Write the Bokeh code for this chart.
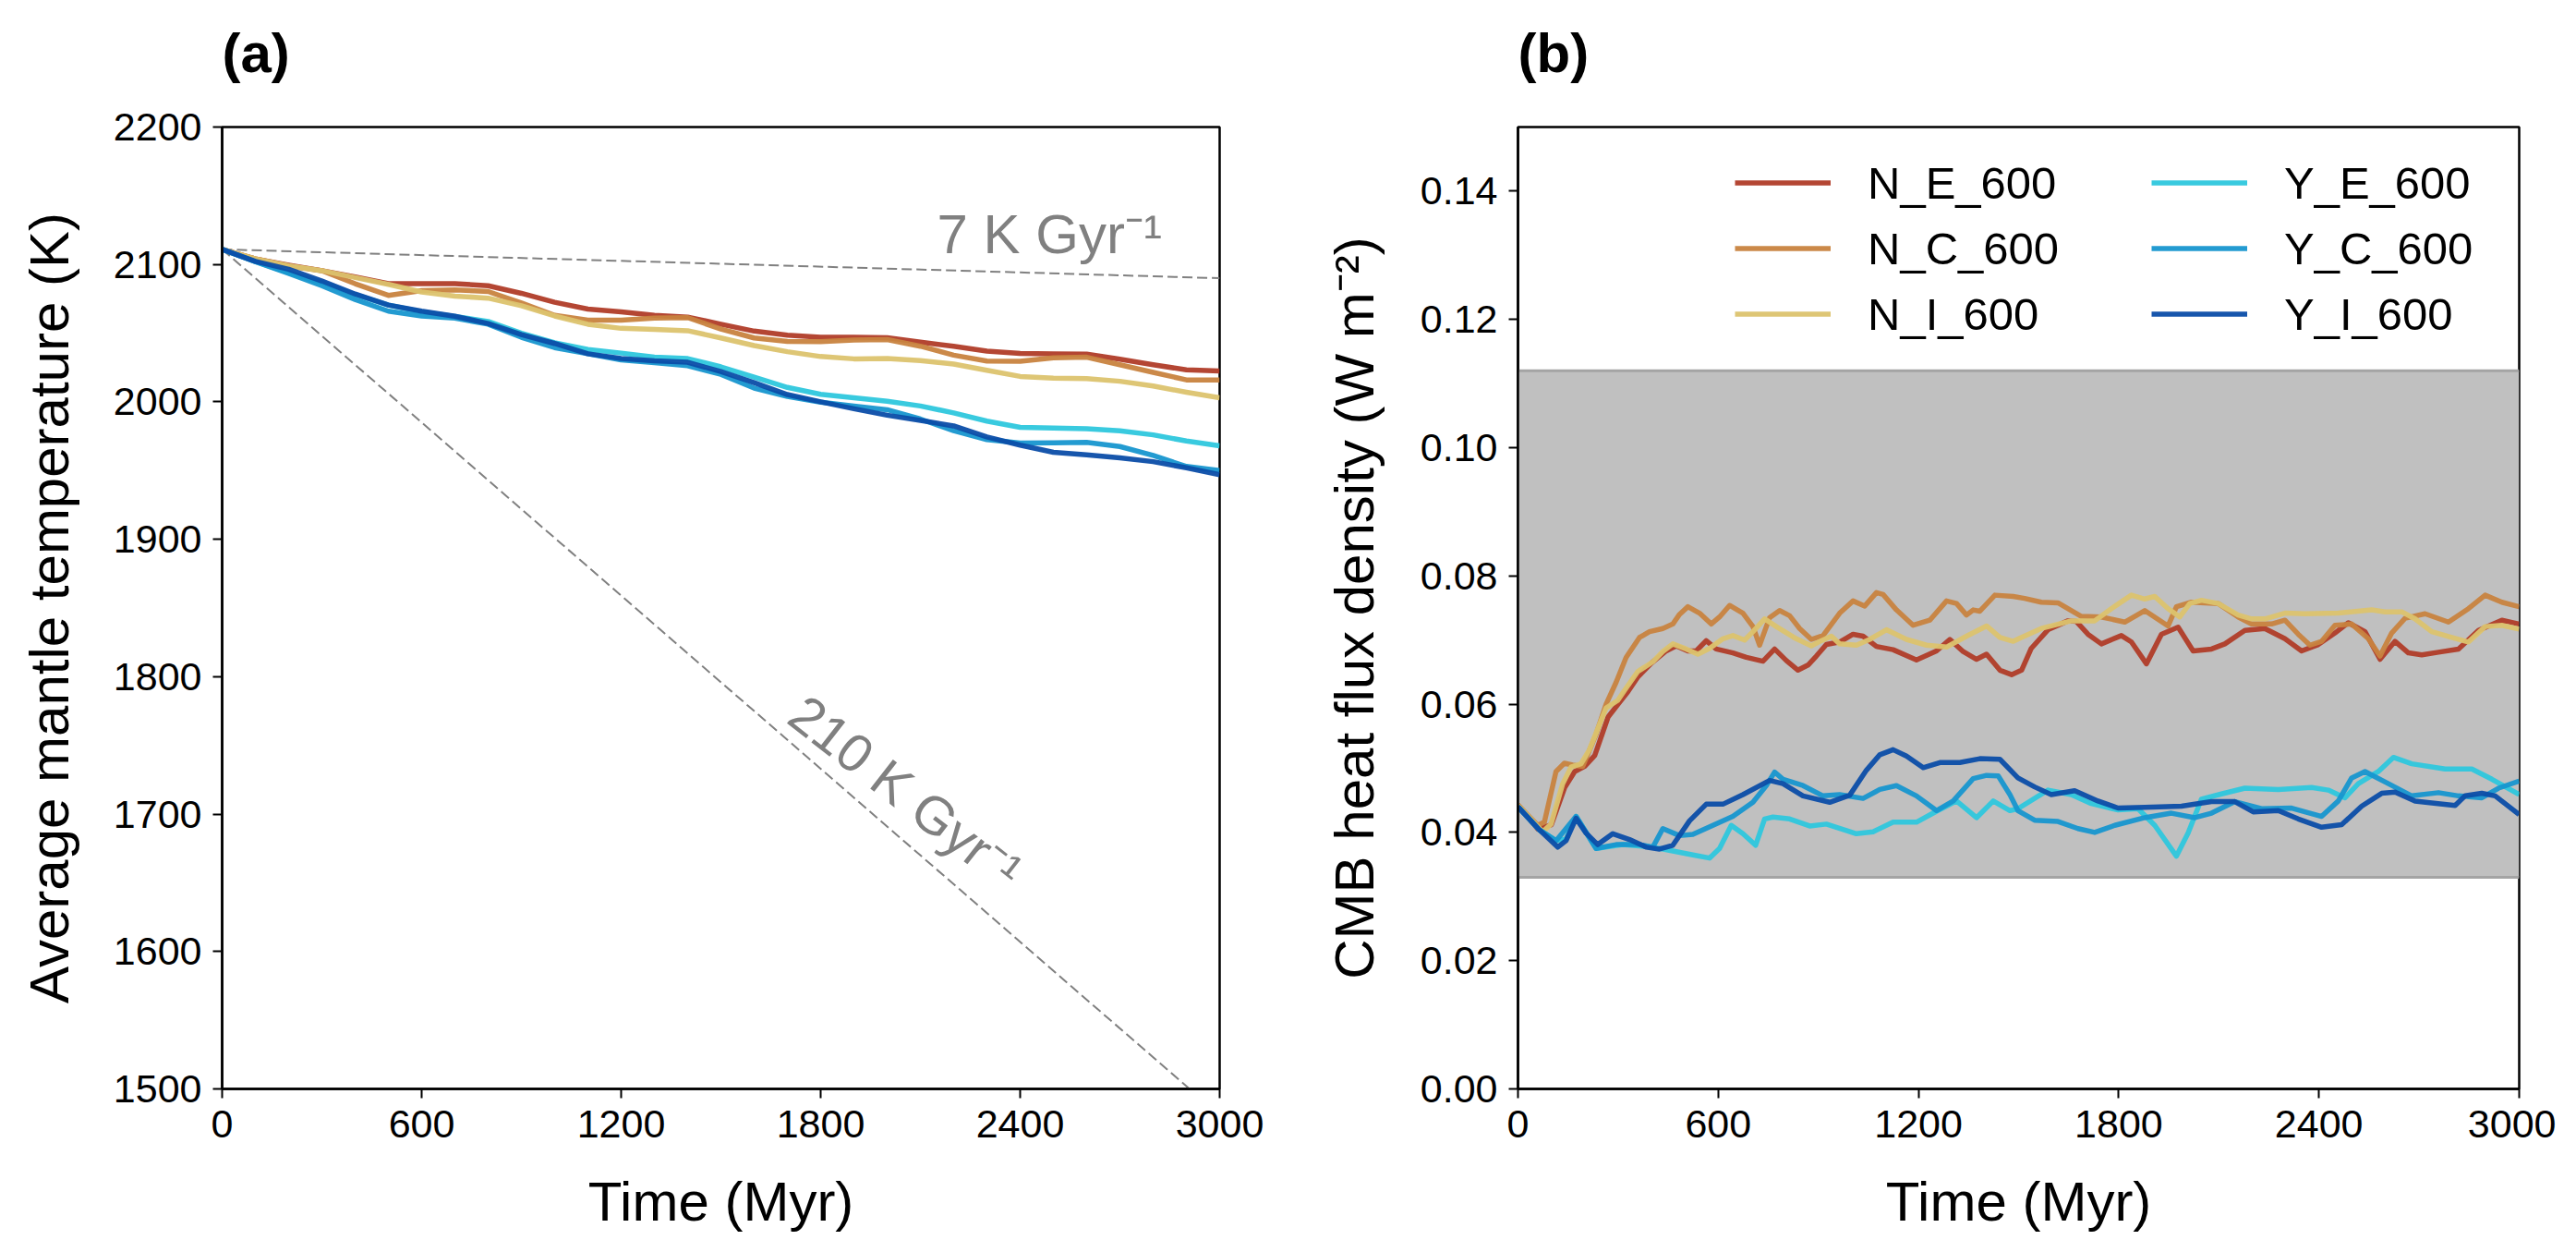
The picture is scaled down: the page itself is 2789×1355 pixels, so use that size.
from bokeh.plotting import figure
from bokeh.layouts import row
from bokeh.models import (Legend, LegendItem, BoxAnnotation, Span, FixedTicker,
                          NumeralTickFormatter, Range1d, Label, Title)
from bokeh.embed import file_html
from bokeh.resources import INLINE

FONT = "Liberation Sans"

# ---------------- data ----------------
names = ["N_E_600", "N_C_600", "N_I_600", "Y_E_600", "Y_C_600", "Y_I_600"]
colors = ["#b03c28", "#c8833f", "#dcc36e", "#2ec7dd", "#1796cf", "#0b4da8"]
panel_titles = ["(a)", "(b)"]

# panel (a): average mantle temperature (K)
time_a = [0, 100, 200, 300, 400, 500, 600, 700, 800, 900, 1000, 1100, 1200, 1300, 1400, 1500,
          1600, 1700, 1800, 1900, 2000, 2100, 2200, 2300, 2400, 2500, 2600, 2700, 2800, 2900, 3000]
temp_ne = [2111, 2104, 2099.5, 2095.5, 2091, 2086, 2086, 2086, 2084.5, 2079, 2072.5, 2067.5, 2065.5,
           2063, 2061.7, 2056.5, 2051.5, 2048.5, 2047, 2047, 2046.7, 2043.5, 2040.5, 2037, 2035.3,
           2035, 2034.8, 2031, 2027, 2023.3, 2022.5]
temp_nc = [2111, 2104, 2099, 2095.5, 2086, 2077.5, 2081, 2081.5, 2080.3, 2072, 2063, 2059.5, 2059.5,
           2061, 2061.3, 2053, 2046.5, 2044, 2043.8, 2045, 2045.3, 2040.5, 2034, 2029.7, 2029.5,
           2032, 2032.5, 2027, 2021.5, 2016, 2016]
temp_ni = [2111, 2104, 2099, 2095.5, 2090.5, 2085.5, 2080, 2077, 2075.5, 2070, 2062.5, 2056.5, 2053.5,
           2052.7, 2051.8, 2046.5, 2041, 2036.5, 2033, 2031.3, 2031.5, 2030, 2027.5, 2023, 2018.5,
           2017.3, 2017, 2015, 2011.5, 2007, 2003]
temp_ye = [2111, 2102, 2094, 2087, 2078, 2070.5, 2065.5, 2062.2, 2058.5, 2050, 2043, 2038.2, 2035.5,
           2032.5, 2031.5, 2025.5, 2018, 2010.5, 2005.5, 2003, 2000.5, 1997, 1992, 1986, 1981.5,
           1981, 1980.5, 1979, 1976, 1971.5, 1968]
temp_yc = [2111, 2102, 2093.5, 2084.5, 2074.5, 2066, 2062.5, 2061, 2056.5, 2047, 2039.5, 2035, 2030.5,
           2028.5, 2026.3, 2020, 2010, 2004, 1999.8, 1997, 1994.3, 1987.5, 1979, 1972.5, 1970,
           1970.2, 1970.5, 1967.5, 1961, 1953, 1950]
temp_yi = [2111, 2102.2, 2096.5, 2088, 2078.5, 2070.5, 2066, 2062.3, 2057, 2049, 2042.5, 2035, 2031.5,
           2029.8, 2028.8, 2022, 2014, 2005.3, 2000, 1995, 1990.3, 1986.5, 1982.5, 1974.5, 1968.5,
           1963.3, 1961.5, 1959.3, 1956.5, 1952, 1947]

# reference cooling rates (K per Gyr) from the common start temperature
ref_T0 = 2111
ref_rates = [7, 210]
ref_time = [0, 3000]

# panel (b): CMB heat flux density (W m^-2)
ne_t = [0, 60, 100, 140, 170, 200, 230, 270, 300, 330, 360, 400, 444, 474, 509, 534, 564, 594, 644, 684,
        734, 769, 804, 839, 869, 894, 924, 964, 1004, 1034, 1074, 1124, 1194, 1254, 1294, 1334, 1374,
        1404, 1444, 1479, 1509, 1538, 1588, 1648, 1673, 1708, 1748, 1808, 1838, 1883, 1928, 1978, 2023,
        2078, 2118, 2178, 2238, 2298, 2348, 2398, 2448, 2488, 2538, 2583, 2628, 2668, 2708, 2758, 2818,
        2878, 2948, 3000]
ne_q = [0.0443, 0.0405, 0.0412, 0.047, 0.0495, 0.0503, 0.052, 0.058, 0.0600, 0.0620, 0.0643, 0.0664,
        0.0683, 0.0691, 0.0683, 0.0683, 0.0699, 0.0686, 0.068, 0.0673, 0.0667, 0.0686, 0.0668, 0.0653,
        0.0661, 0.0675, 0.0693, 0.0697, 0.0709, 0.0706, 0.069, 0.0685, 0.0669, 0.0683, 0.0701, 0.0682,
        0.067, 0.0678, 0.0653, 0.0646, 0.0653, 0.0687, 0.0716, 0.073, 0.0729, 0.0709, 0.0694, 0.0707,
        0.0697, 0.0663, 0.0709, 0.072, 0.0683, 0.0686, 0.0694, 0.0715, 0.0718, 0.0702, 0.0683, 0.0693,
        0.0711, 0.0727, 0.0713, 0.067, 0.0698, 0.068, 0.0677, 0.0681, 0.0686, 0.0715, 0.0731, 0.0725]
nc_t = [0, 59, 79, 114, 139, 164, 194, 234, 264, 294, 324, 364, 394, 434, 464, 484, 509, 544, 579, 604,
        634, 674, 704, 724, 754, 784, 814, 844, 879, 914, 964, 1004, 1039, 1074, 1094, 1134, 1184, 1234,
        1284, 1314, 1344, 1364, 1384, 1429, 1484, 1518, 1568, 1618, 1688, 1748, 1818, 1878, 1948, 1973,
        2018, 2098, 2158, 2198, 2258, 2298, 2338, 2373, 2408, 2448, 2498, 2548, 2583, 2618, 2658, 2718,
        2788, 2848, 2898, 2948, 3000]
nc_q = [0.0443, 0.0411, 0.0416, 0.0495, 0.0508, 0.0505, 0.0503, 0.0553, 0.0600, 0.0634, 0.0673, 0.0704,
        0.0713, 0.0718, 0.0725, 0.074, 0.0752, 0.0742, 0.0725, 0.0736, 0.0754, 0.0742, 0.0721, 0.0692,
        0.0735, 0.0746, 0.0738, 0.0718, 0.0701, 0.0707, 0.0742, 0.0761, 0.0753, 0.0774, 0.0771, 0.0747,
        0.0723, 0.0731, 0.0761, 0.0757, 0.0739, 0.0747, 0.0745, 0.077, 0.0768, 0.0765, 0.0759, 0.0758,
        0.0737, 0.0736, 0.0728, 0.0746, 0.0722, 0.0752, 0.0759, 0.0757, 0.0736, 0.0725, 0.0725, 0.0731,
        0.0709, 0.0692, 0.0698, 0.0723, 0.0725, 0.0702, 0.0675, 0.0711, 0.0734, 0.0741, 0.0728, 0.0749,
        0.077, 0.0759, 0.0752]
ni_t = [0, 74, 99, 134, 159, 189, 214, 264, 299, 324, 359, 404, 434, 464, 504, 539, 574, 614, 644, 679,
        704, 739, 774, 834, 879, 909, 939, 964, 1014, 1054, 1104, 1164, 1224, 1284, 1344, 1404, 1444,
        1484, 1508, 1568, 1658, 1728, 1778, 1838, 1878, 1908, 1948, 1983, 2013, 2048, 2098, 2158, 2198,
        2238, 2298, 2358, 2458, 2558, 2598, 2648, 2688, 2738, 2798, 2848, 2898, 2948, 3000]
ni_q = [0.0442, 0.0401, 0.0413, 0.0476, 0.0502, 0.0507, 0.0529, 0.0594, 0.0606, 0.0625, 0.0651, 0.0666,
        0.0682, 0.0694, 0.0686, 0.0678, 0.0687, 0.0702, 0.0707, 0.070, 0.0713, 0.0733, 0.0721, 0.0702,
        0.0691, 0.0699, 0.0706, 0.0694, 0.0692, 0.0701, 0.0716, 0.0701, 0.0692, 0.0689, 0.0706, 0.0722,
        0.0704, 0.0698, 0.0704, 0.0718, 0.073, 0.073, 0.0749, 0.077, 0.0764, 0.0768, 0.0749, 0.0736,
        0.0757, 0.0762, 0.0757, 0.0739, 0.0733, 0.0733, 0.0742, 0.0741, 0.0742, 0.0747, 0.0744, 0.0744,
        0.0733, 0.0713, 0.0704, 0.0697, 0.0721, 0.0723, 0.0717]
ye_t = [0, 64, 114, 144, 174, 234, 314, 404, 464, 524, 574, 604, 639, 674, 712, 739, 764, 814, 874, 924,
        1014, 1064, 1124, 1194, 1254, 1314, 1374, 1424, 1474, 1498, 1588, 1658, 1718, 1798, 1858, 1908,
        1973, 2008, 2048, 2108, 2178, 2278, 2378, 2428, 2478, 2518, 2578, 2623, 2678, 2778, 2858, 2918,
        3000]
ye_q = [0.044, 0.0404, 0.0387, 0.039, 0.0425, 0.0375, 0.0381, 0.0377, 0.0371, 0.0365, 0.036, 0.0375,
        0.0411, 0.0398, 0.038, 0.0421, 0.0424, 0.0421, 0.041, 0.0413, 0.0398, 0.0401, 0.0416, 0.0416,
        0.0433, 0.0449, 0.0423, 0.0449, 0.0434, 0.0437, 0.0466, 0.0459, 0.0445, 0.0435, 0.0437, 0.0411,
        0.0363, 0.0399, 0.0452, 0.046, 0.0469, 0.0467, 0.047, 0.0466, 0.0454, 0.0476, 0.0495, 0.0517,
        0.0507, 0.0499, 0.0499, 0.0483, 0.0459]
yc_t = [0, 64, 114, 174, 234, 294, 364, 404, 434, 484, 524, 584, 644, 704, 744, 769, 794, 854, 914, 964,
        1034, 1084, 1134, 1194, 1254, 1304, 1364, 1404, 1439, 1474, 1498, 1548, 1618, 1678, 1728, 1788,
        1878, 1958, 2028, 2078, 2148, 2228, 2318, 2408, 2458, 2498, 2538, 2608, 2678, 2758, 2818, 2888,
        2938, 3000]
yc_q = [0.044, 0.0404, 0.0387, 0.0425, 0.0375, 0.0381, 0.0381, 0.0377, 0.0406, 0.0395, 0.0397, 0.0411,
        0.0425, 0.0447, 0.0473, 0.0494, 0.0483, 0.0473, 0.0457, 0.0459, 0.0453, 0.0467, 0.0473, 0.0457,
        0.0434, 0.0449, 0.0484, 0.0489, 0.0488, 0.0459, 0.0434, 0.0419, 0.0417, 0.0406, 0.040, 0.0411,
        0.0423, 0.043, 0.0423, 0.043, 0.0448, 0.0437, 0.0438, 0.0425, 0.0449, 0.0485, 0.0495, 0.0476,
        0.0457, 0.0462, 0.0457, 0.0454, 0.0469, 0.048]
yi_t = [0, 64, 119, 144, 174, 204, 239, 284, 334, 384, 424, 464, 514, 564, 614, 674, 754, 794, 854, 934,
        994, 1044, 1084, 1124, 1164, 1214, 1264, 1324, 1384, 1444, 1498, 1548, 1598, 1668, 1738, 1798,
        1878, 1988, 2078, 2148, 2203, 2278, 2338, 2408, 2468, 2528, 2588, 2628, 2688, 2738, 2808, 2838,
        2888, 2928, 3000]
yi_q = [0.044, 0.0404, 0.0377, 0.0387, 0.0422, 0.0399, 0.0381, 0.0398, 0.0389, 0.0377, 0.0374, 0.038,
        0.0418, 0.0444, 0.0444, 0.0459, 0.0481, 0.0476, 0.0457, 0.0447, 0.0458, 0.0497, 0.0521, 0.0529,
        0.0519, 0.0501, 0.0509, 0.0509, 0.0515, 0.0514, 0.0485, 0.0471, 0.0459, 0.0465, 0.0449, 0.0438,
        0.0439, 0.0441, 0.0448, 0.0448, 0.0432, 0.0434, 0.0421, 0.0408, 0.0412, 0.0441, 0.0461, 0.0463,
        0.0449, 0.0446, 0.0442, 0.0457, 0.0461, 0.0457, 0.0428]

# range of present-day CMB heat flux estimates (shaded band)
band_low = 0.033
band_high = 0.112

x_ticks = [0, 600, 1200, 1800, 2400, 3000]
y_ticks_a = [1500, 1600, 1700, 1800, 1900, 2000, 2100, 2200]
y_ticks_b = [0.00, 0.02, 0.04, 0.06, 0.08, 0.10, 0.12, 0.14]

TICK_PX = "43px"
LABEL_PX = "60px"
LW = 5.5
FRAME_H = 1041


def style(p, ylabel, ystand, title):
    p.outline_line_color = "black"
    p.outline_line_width = 2.5
    p.outline_line_alpha = 1
    p.xgrid.visible = False
    p.ygrid.visible = False
    p.background_fill_color = "white"
    p.border_fill_color = "white"
    p.xaxis.ticker = FixedTicker(ticks=x_ticks)
    p.xaxis.axis_label = "Time (Myr)"
    p.yaxis.axis_label = ylabel
    for ax in (p.xaxis[0], p.yaxis[0]):
        ax.axis_label_text_font = FONT
        ax.axis_label_text_font_size = LABEL_PX
        ax.axis_label_text_font_style = "normal"
        ax.axis_label_text_color = "black"
        ax.major_label_text_font = FONT
        ax.major_label_text_font_size = TICK_PX
        ax.major_label_text_color = "black"
        ax.axis_line_color = "black"
        ax.axis_line_width = 2.5
        ax.major_tick_line_color = "black"
        ax.major_tick_line_width = 2
        ax.major_tick_out = 10
        ax.major_tick_in = 0
        ax.minor_tick_line_color = None
    p.xaxis.major_label_standoff = 13
    p.yaxis.major_label_standoff = 12
    p.xaxis.axis_label_standoff = 33
    p.yaxis.axis_label_standoff = ystand
    # spacer between frame and panel letter, then the bold panel letter
    p.add_layout(Title(text=" ", text_font_size="4px", standoff=40), "above")
    p.add_layout(Title(text=title, text_font=FONT, text_font_size="60px",
                       text_font_style="bold", text_color="black", align="left",
                       offset=0, standoff=0), "above")


# ---------------- panel (a) ----------------
pa = figure(frame_width=1080, frame_height=FRAME_H, min_border_left=240,
            min_border_right=70, min_border_top=137, min_border_bottom=165,
            x_range=Range1d(0, 3000), y_range=Range1d(1500, 2200),
            output_backend="svg", toolbar_location=None, tools="")
style(pa, "Average mantle temperature (K)", 33, panel_titles[0])
pa.yaxis.ticker = FixedTicker(ticks=y_ticks_a)

for rate in ref_rates:
    pa.line(ref_time, [ref_T0 - rate * t / 1000.0 for t in ref_time], line_color="#808080",
            line_width=2, line_dash="11 5")

temps = [temp_ne, temp_nc, temp_ni, temp_ye, temp_yc, temp_yi]
for T, c in zip(temps, colors):
    pa.line(time_a, T, line_color=c, line_width=LW, line_alpha=0.95, line_join="round")

pa.add_layout(Label(x=2150, y=2122, text="7 K Gyr\u207b\u00b9", text_font=FONT,
                    text_font_size="60px", text_color="#808080",
                    text_align="left", text_baseline="alphabetic"))
pa.add_layout(Label(x=2056, y=1716, text="210 K Gyr\u207b\u00b9", text_font=FONT,
                    text_font_size="58px", text_color="#808080", angle=-38, angle_units="deg",
                    text_align="center", text_baseline="middle"))

# ---------------- panel (b) ----------------
pb = figure(frame_width=1084, frame_height=FRAME_H, min_border_left=253,
            min_border_right=40, min_border_top=137, min_border_bottom=165,
            x_range=Range1d(0, 3000), y_range=Range1d(0, 0.15),
            output_backend="svg", toolbar_location=None, tools="")
style(pb, "CMB heat flux density (W m\u207b\u00b2)", 35, panel_titles[1])
pb.yaxis.ticker = FixedTicker(ticks=y_ticks_b)
pb.yaxis.formatter = NumeralTickFormatter(format="0.00")

pb.add_layout(BoxAnnotation(bottom=band_low, top=band_high, fill_color="#c0c0c0", fill_alpha=1,
                            line_color=None, level="underlay"))
for loc in (band_low, band_high):
    pb.add_layout(Span(location=loc, dimension="width", line_color="#a4a4a4", line_width=3,
                       level="underlay"))

series_b = [(ne_t, ne_q), (nc_t, nc_q), (ni_t, ni_q), (ye_t, ye_q), (yc_t, yc_q), (yi_t, yi_q)]
rends = []
for (t, q), c in zip(series_b, colors):
    r = pb.line(t, q, line_color=c, line_width=LW, line_alpha=0.95, line_join="round")
    rends.append(r)


def make_legend(idx, x):
    items = [LegendItem(label=names[i], renderers=[rends[i]]) for i in idx]
    lg = Legend(items=items, location=(x, 803), orientation="vertical",
                glyph_width=104, glyph_height=71, label_height=71, label_standoff=40,
                spacing=0, padding=0, margin=0, border_line_color=None,
                background_fill_alpha=0, label_text_font=FONT, label_text_font_size="49px",
                label_text_color="black")
    return lg


pb.add_layout(make_legend([0, 1, 2], 235))
pb.add_layout(make_legend([3, 4, 5], 686))

layout = row(pa, pb)
open("out.html", "w").write(file_html(layout, INLINE, title="mantle"))
